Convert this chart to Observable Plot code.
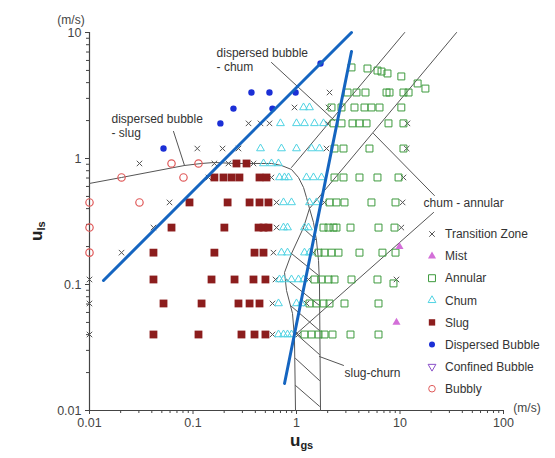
<!DOCTYPE html>
<html><head><meta charset="utf-8">
<script src="https://cdn.jsdelivr.net/npm/d3@7"></script>
<script src="https://cdn.jsdelivr.net/npm/@observablehq/plot@0.6"></script>
<style>
html,body{margin:0;padding:0;background:#fff;}
#chart{width:555px;height:458px;}
</style></head><body><div id="chart"></div>
<script>
// ---- tick values ----
const ugsMajor = [0.01, 0.1, 1, 10, 100];
const ulsMajor = [0.01, 0.1, 1, 10];
const ugsMinor = [2,3,4,5,6,7,8,9].flatMap(m => [0.01, 0.1, 1, 10].map(d => m * d));
const ulsMinor = [2,3,4,5,6,7,8,9].flatMap(m => [0.01, 0.1, 1].map(d => m * d));

// ---- data: rows of [uls, [ugs ...]] ----
const transitionRows = [
  [3.34, [2.084]],
  [2.54, [0.956, 2.038]],
  [1.9, [0.344, 0.449, 0.548, 1.994, 11.8]],
  [1.2, [0.110, 0.193, 0.275, 1.950, 11.6]],
  [0.913, [0.0304, 0.161, 0.220, 0.384]],
  [0.707, [0.141, 0.573, 10.8]],
  [0.448, [0.0593, 0.641, 1.865, 10.6]],
  [0.283, [0.0415, 0.641, 10.3]],
  [0.179, [0.0204, 0.599, 1.459]],
  [0.1096, [0.01, 0.627, 1.306, 9.25]],
  [0.0707, [0.01, 0.586, 1.249]],
  [0.0401, [0.01, 0.586, 1.045]]
];
const slugRows = [
  [0.913, [0.263, 0.329]],
  [0.707, [0.161, 0.197, 0.236, 0.281, 0.439, 0.513]],
  [0.448, [0.0925, 0.216, 0.352, 0.439, 0.536]],
  [0.283, [0.062, 0.201, 0.430, 0.480, 0.536]],
  [0.179, [0.0415, 0.161, 0.393, 0.480]],
  [0.1096, [0.0415, 0.151, 0.252, 0.384, 0.501]],
  [0.0707, [0.0519, 0.121, 0.275, 0.352, 0.439]],
  [0.0401, [0.0415, 0.113, 0.294, 0.393, 0.501]]
];
const churnRows = [
  [2.54, [1.169, 1.335]],
  [1.9, [0.700, 1.0, 1.195, 1.492, 1.823]],
  [1.2, [0.449, 0.716, 1.0, 1.396, 1.668]],
  [0.913, [0.480, 0.573, 0.670]],
  [0.707, [0.685, 0.766, 0.837, 1.249, 1.459, 1.744]],
  [0.448, [0.749, 0.895, 1.335, 1.560]],
  [0.283, [0.749, 0.819, 1.195, 1.306]],
  [0.179, [0.716, 0.819, 1.195, 1.335]],
  [0.1096, [0.685, 0.749, 0.895, 1.045, 1.169]],
  [0.0707, [0.670, 1.0, 1.118]],
  [0.0401, [0.670, 0.749, 0.819, 0.895]]
];
const annularRows = [
  [3.34, [3.11, 3.80, 4.64, 7.41, 7.92, 10.8, 12.1]],
  [2.54, [2.179, 2.721, 3.633, 4.54, 5.30, 6.34, 10.3]],
  [1.9, [2.278, 2.721, 3.475, 4.06, 4.75, 7.74, 10.8]],
  [1.2, [2.329, 2.845, 5.07, 10.8]],
  [0.707, [2.329, 2.845, 4.06, 6.06, 9.68]],
  [0.448, [2.084, 2.434, 2.909, 5.30, 9.05]],
  [0.283, [1.823, 2.038, 2.278, 2.434, 3.325, 6.20, 8.85]],
  [0.179, [1.632, 1.865, 2.179, 2.545, 4.06, 6.77, 9.05]],
  [0.1096, [1.492, 1.744, 2.038, 2.329, 3.399, 6.06]],
  [0.0707, [1.335, 1.560, 1.823, 2.084, 2.909, 6.20]],
  [0.0401, [1.195, 1.396, 1.632, 1.865, 2.228, 3.325, 6.20]]
];
// scattered points as [ugs, uls]
const annularExtra = [[3.40,5.28],[4.85,5.18],[6.06,4.99],[6.63,4.90],[7.57,4.73],[10.3,4.48],[14.8,3.94],[17.6,3.59],[8.65,0.102]];
const bubbly = [[0.062,0.913],[0.113,0.913],[0.0204,0.707],[0.0809,0.707],[0.01,0.448],[0.0304,0.448],[0.01,0.283],[0.01,0.179]];
const dispersedBubble = [[0.0519,1.2],[0.184,1.9],[0.246,2.49],[0.586,2.49],[0.367,3.34],[0.548,3.34],[0.98,3.34],[1.706,5.67]];
const mist = [[9.89,0.200],[9.25,0.0499]];

// ---- transition boundaries [ugs, uls] ----
const curveMain = [[0.01,0.634],[0.0204,0.707],[0.0828,0.880],[0.121,0.913],[0.161,0.930],[0.252,0.913],[0.459,0.913],[0.573,0.913],[0.716,0.880],[0.895,0.818],[1.045,0.707],[1.169,0.589],[1.249,0.490],[1.335,0.401],[1.459,0.311],[1.560,0.224],[1.632,0.155],[1.668,0.1018],[1.706,0.01]];
const curveHatchLeft = [[1.335,0.401],[1.169,0.283],[0.895,0.176],[0.766,0.1245],[0.801,0.0896],[0.915,0.0589],[0.956,0.0379],[0.978,0.01]];
const lineB = [[0.895,0.849],[11.1,10]];
const lineC = [[1.335,0.401],[35.2,10]];
const lineDBChurn = [[0.573,5.78],[2.329,2.00]];
const lineChurnAnnular1 = [[5.54,1.58],[21.5,0.508]];
const lineChurnAnnular2 = [[0.956,0.0394],[21.1,0.373]];
const leaderDBSlug = [[0.0648,1.64],[0.0828,0.880]];
const leaderSlugChurn = [[1.668,0.0268],[2.845,0.0228]];
const hatch = [
  [[1.169,0.278],[1.560,0.224]],
  [[0.895,0.176],[1.632,0.118]],
  [[0.783,0.1116],[1.668,0.0681]],
  [[0.875,0.0681],[1.668,0.0431]],
  [[0.956,0.0416],[1.668,0.0278]],
  [[0.978,0.0259],[1.668,0.0173]],
  [[0.978,0.0158],[1.668,0.0108]]
];
// thick blue lines
const blue1 = [[0.01365,0.1076],[3.40,10]];
const blue2 = [[0.766,0.0164],[3.40,7.07]];

// annotation labels
const labels = [
  {ugs:0.169, uls:7.60, text:"dispersed bubble\n- chum", anchor:"top"},
  {ugs:0.0163, uls:2.28, text:"dispersed bubble\n- slug", anchor:"top"},
  {ugs:16.9, uls:0.439, text:"chum - annular", anchor:"middle"},
  {ugs:2.909, uls:0.0197, text:"slug-churn", anchor:"middle"}
];

const legendItems = ["Transition Zone","Mist","Annular","Chum","Slug","Dispersed Bubble","Confined Bubble","Bubbly"];

// ---- build ----
const fromRows = rows => rows.flatMap(([uls, gs]) => gs.map(ugs => ({ugs, uls})));
const fromPairs = a => a.map(([ugs, uls]) => ({ugs, uls}));
const segs = [curveMain, curveHatchLeft, lineB, lineC, lineDBChurn, lineChurnAnnular1, lineChurnAnnular2, leaderDBSlug, leaderSlugChurn, ...hatch]
  .flatMap((s, i) => s.map(([ugs, uls]) => ({ugs, uls, id: i})));
const blues = [blue1, blue2].flatMap((s, i) => s.map(([ugs, uls]) => ({ugs, uls, id: i})));

const C = {
  trans: "#555", mist: "#d36fd8", annular: "#3d9a3d", churn: "#4fd3e3",
  slug: "#8c1d1d", db: "#1b2fd6", confined: "#8a4fc8", bubbly: "#e05a5a"
};

const plot = Plot.plot({
  width: 555, height: 458,
  marginLeft: 89, marginRight: 52, marginTop: 32, marginBottom: 48,
  style: {fontFamily: "Liberation Sans, Arial, sans-serif", fontSize: "12.5px", color: "#444", background: "#fff", overflow: "visible"},
  x: {type: "log", domain: [0.01, 100]},
  y: {type: "log", domain: [0.01, 10]},
  marks: [
    Plot.axisX({ticks: ugsMajor, tickFormat: d => String(d), tickSize: 4, tickPadding: 4, label: null, stroke: "#444"}),
    Plot.axisX({ticks: ugsMinor, tickFormat: () => "", tickSize: 3, label: null, stroke: "#444"}),
    Plot.axisY({ticks: ulsMajor, tickFormat: d => String(d), tickSize: 4, tickPadding: 4, label: null, stroke: "#444"}),
    Plot.axisY({ticks: ulsMinor, tickFormat: () => "", tickSize: 3, label: null, stroke: "#444"}),
    Plot.ruleX([0.01], {stroke: "#444", strokeWidth: 1.2}),
    Plot.ruleY([0.01], {stroke: "#444", strokeWidth: 1.2}),
    Plot.line(segs, {x: "ugs", y: "uls", z: "id", stroke: "#555", strokeWidth: 1, curve: "linear"}),
    Plot.dot(fromRows(transitionRows), {x: "ugs", y: "uls", symbol: "times", r: 2.6, stroke: C.trans, strokeWidth: 1}),
    Plot.dot([...fromRows(annularRows), ...fromPairs(annularExtra)], {x: "ugs", y: "uls", symbol: "square", r: 3.9, stroke: C.annular, fill: "none", strokeWidth: 1}),
    Plot.dot(fromRows(churnRows), {x: "ugs", y: "uls", symbol: "triangle", r: 2.9, stroke: C.churn, fill: "none", strokeWidth: 1}),
    Plot.dot(fromRows(slugRows), {x: "ugs", y: "uls", symbol: "square", r: 4.4, fill: C.slug}),
    Plot.dot(fromPairs(dispersedBubble), {x: "ugs", y: "uls", symbol: "circle", r: 3.2, fill: C.db}),
    Plot.dot(fromPairs(bubbly), {x: "ugs", y: "uls", symbol: "circle", r: 3.7, stroke: C.bubbly, fill: "none", strokeWidth: 1.2}),
    Plot.dot(fromPairs(mist), {x: "ugs", y: "uls", symbol: "triangle", r: 3, fill: C.mist}),
    Plot.text(labels.filter(d => d.anchor === "top"), {x: "ugs", y: "uls", text: "text", textAnchor: "start", lineAnchor: "top", lineHeight: 1.15, fontSize: 12, fill: "#333"}),
    Plot.text(labels.filter(d => d.anchor === "middle"), {x: "ugs", y: "uls", text: "text", textAnchor: "start", lineAnchor: "middle", fontSize: 12, fill: "#333"}),
    Plot.line(blues, {x: "ugs", y: "uls", z: "id", stroke: "#1565c0", strokeWidth: 3})
  ]
});

// ---- extra texts and legend ----
const svg = d3.select(plot);
const font = "Liberation Sans, Arial, sans-serif";
svg.append("text").attr("x", 71).attr("y", 24).attr("text-anchor", "middle")
  .attr("font-family", font).attr("font-size", 12).attr("fill", "#444").text("(m/s)");
svg.append("text").attr("x", 527).attr("y", 412).attr("text-anchor", "middle")
  .attr("font-family", font).attr("font-size", 12).attr("fill", "#444").text("(m/s)");
const xl = svg.append("text").attr("x", 290).attr("y", 446).attr("text-anchor", "start").attr("font-family", font).attr("font-weight", "bold").attr("fill", "#222");
xl.append("tspan").attr("font-size", 17).text("u");
xl.append("tspan").attr("font-size", 11).attr("dy", 3).text("gs");
const yl = svg.append("text").attr("transform", "translate(42,241) rotate(-90)").attr("text-anchor", "start").attr("font-family", font).attr("font-weight", "bold").attr("fill", "#222");
yl.append("tspan").attr("font-size", 17).text("u");
yl.append("tspan").attr("font-size", 11).attr("dy", 3).text("ls");

const lg = svg.append("g").attr("font-family", font).attr("font-size", 12).attr("fill", "#333").attr("text-anchor", "start");
const sym = (type, r) => d3.symbol().type(type).size(Math.PI * r * r)();
const legendStyle = [
  {d: sym(d3.symbolTimes, 2.6), fill: "none", stroke: C.trans},
  {d: sym(d3.symbolTriangle, 3), fill: C.mist, stroke: "none"},
  {d: sym(d3.symbolSquare, 3.9), fill: "none", stroke: C.annular},
  {d: sym(d3.symbolTriangle, 2.9), fill: "none", stroke: C.churn},
  {d: sym(d3.symbolSquare, 3.6), fill: C.slug, stroke: "none"},
  {d: sym(d3.symbolCircle, 3), fill: C.db, stroke: "none"},
  {d: sym(d3.symbolTriangle, 2.9), fill: "none", stroke: C.confined, rot: 180},
  {d: sym(d3.symbolCircle, 3.3), fill: "none", stroke: C.bubbly}
];
legendItems.forEach((name, i) => {
  const y = 234 + i * 22.1;
  const s = legendStyle[i];
  lg.append("path").attr("d", s.d).attr("transform", `translate(432,${y})${s.rot ? " rotate(180)" : ""}`)
    .attr("fill", s.fill).attr("stroke", s.stroke).attr("stroke-width", 1);
  lg.append("text").attr("x", 445).attr("y", y).attr("dy", "0.35em").attr("text-anchor", "start").text(name);
});

document.getElementById("chart").appendChild(plot);
</script></body></html>
